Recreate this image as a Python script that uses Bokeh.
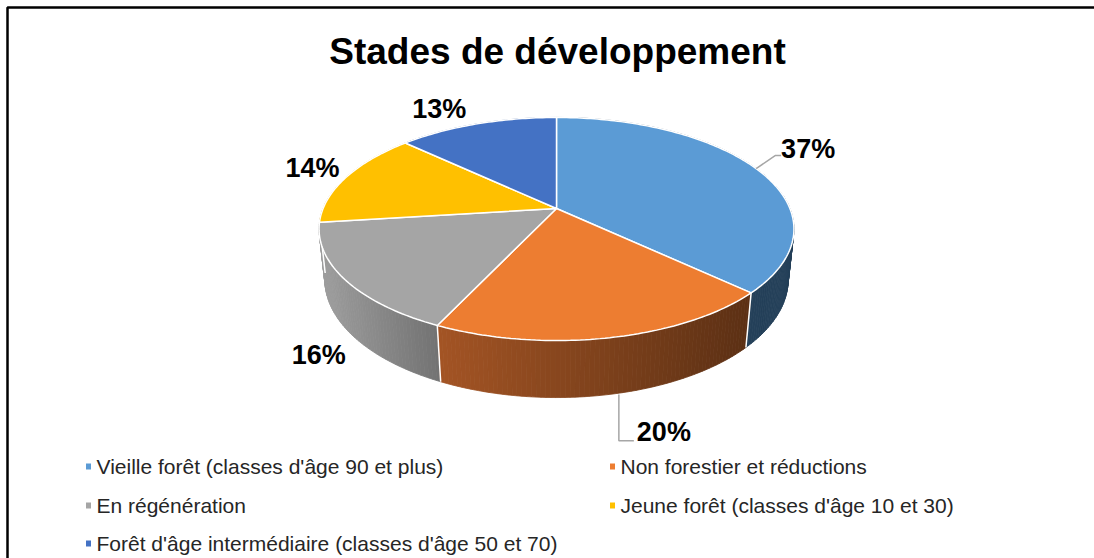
import numpy as np
from bokeh.plotting import figure
from bokeh.models import Range1d
from bokeh.embed import file_html
from bokeh.resources import INLINE
from bokeh.core.properties import value

# ---------------- data ----------------
title_text = "Stades de développement"
categories = [
    "Vieille forêt (classes d'âge 90 et plus)",
    "Non forestier et réductions",
    "En régénération",
    "Jeune forêt (classes d'âge 10 et 30)",
    "Forêt d'âge intermédiaire (classes d'âge 50 et 70)",
]
values = [37, 20, 16, 14, 13]
pct_labels = ["37%", "20%", "16%", "14%", "13%"]

# ---------------- style ----------------
top_colors = ["#5B9BD5", "#ED7D31", "#A5A5A5", "#FFC000", "#4472C4"]
side_left = [(36, 64, 89), (163, 84, 36), (158, 158, 158), (190, 140, 0), (50, 85, 150)]
side_right = [(36, 64, 89), (92, 48, 20), (115, 115, 115), (190, 140, 0), (50, 85, 150)]
label_offsets = [(52, -20), (54, 94), (-26, 75), (-34, -9), (-38, -15)]
FONT = "Liberation Sans"

W, HGT = 1094, 558
CX, CY = 556.0, 208.0
ELEV = np.arcsin(0.465)
DIST = 4.82
FOC = 1125.0
THICK = 0.249


def proj(phi_deg, z=0.0, r=1.0):
    ph = np.radians(phi_deg)
    X = r * np.sin(ph)
    Y = r * np.cos(ph)
    yv = Y * np.sin(ELEV) + z * np.cos(ELEV)
    dep = DIST + Y * np.cos(ELEV) - z * np.sin(ELEV)
    return CX + FOC * X / dep, CY - FOC * yv / dep * 0.993


total = float(sum(values))
cum = np.concatenate([[0.0], np.cumsum(values)]) / total * 360.0
starts, ends = cum[:-1], cum[1:]

p = figure(width=W, height=HGT, x_range=Range1d(0, W), y_range=Range1d(HGT, 0),
           output_backend="svg", toolbar_location=None, min_border=0,
           x_axis_location=None, y_axis_location=None)
p.grid.visible = False
p.outline_line_color = None
p.background_fill_color = "white"

# ---------------- side walls ----------------
quads = []
for i, (a0, a1) in enumerate(zip(starts, ends)):
    n = max(2, int(np.ceil(a1 - a0)) + 1)
    angs = np.linspace(a0, a1, n)
    mids = (angs[:-1] + angs[1:]) / 2
    front = np.cos(np.radians(mids)) < 0.05
    mx = np.array([proj(m)[0] for m in mids])
    if front.any():
        xmin, xmax = mx[front].min(), mx[front].max()
    else:
        xmin, xmax = mx.min(), mx.max()
    for k in range(n - 1):
        a, b = angs[k], angs[k + 1]
        ta, tb = proj(a), proj(b)
        ba, bb = proj(a, -THICK), proj(b, -THICK)
        t = 0.0 if xmax == xmin else float(np.clip((mx[k] - xmin) / (xmax - xmin), 0, 1))
        c = tuple(int(round(side_left[i][j] + t * (side_right[i][j] - side_left[i][j]))) for j in range(3))
        col = "#%02x%02x%02x" % c
        depth = np.cos(np.radians(mids[k]))
        quads.append((depth, [ta[0], tb[0], bb[0], ba[0]], [ta[1], tb[1], bb[1], ba[1]], col))
quads.sort(key=lambda q: -q[0])
p.patches(xs=[q[1] for q in quads], ys=[q[2] for q in quads],
          fill_color=[q[3] for q in quads], line_color=[q[3] for q in quads], line_width=0.8)

# separators on side walls
sx0, sy0, sx1, sy1 = [], [], [], []
for a in list(starts[1:]):
    if np.cos(np.radians(a)) < 0:
        t_ = proj(a)
        b_ = proj(a, -THICK)
        sx0.append(t_[0]); sy0.append(t_[1]); sx1.append(b_[0]); sy1.append(b_[1])
p.segment(x0=sx0, y0=sy0, x1=sx1, y1=sy1, line_color="white", line_width=1.5)

# ---------------- top faces ----------------
txs, tys = [], []
for a0, a1 in zip(starts, ends):
    n = max(2, int(np.ceil(a1 - a0)) + 1)
    angs = np.linspace(a0, a1, n)
    pts = [proj(a) for a in angs]
    txs.append([CX] + [q[0] for q in pts])
    tys.append([CY] + [q[1] for q in pts])
p.patches(xs=txs, ys=tys, fill_color=top_colors, line_color="white", line_width=1.5)

# ---------------- data labels ----------------
lx, ly = [], []
anchors = []
for i, (a0, a1) in enumerate(zip(starts, ends)):
    m = (a0 + a1) / 2
    ax, ay = proj(m)
    anchors.append((ax, ay, proj(m, -THICK)))
    lx.append(ax + label_offsets[i][0])
    ly.append(ay + label_offsets[i][1])

# leader lines (first two slices)
ax0, ay0, _ = anchors[0]
p.line(x=[ax0, lx[0] - 33, lx[0] - 27], y=[ay0, ly[0] + 7, ly[0] + 7], line_color="#A6A6A6", line_width=1.5)
_, _, bot1 = anchors[1]
p.line(x=[lx[1] - 45, lx[1] - 45, lx[1] - 30], y=[bot1[1], ly[1] + 9, ly[1] + 9], line_color="#A6A6A6", line_width=1.5)

p.text(x=lx, y=ly, text=pct_labels, text_font=value(FONT), text_font_style="bold",
       text_font_size="27px", text_align="center", text_baseline="middle", text_color="black")

# ---------------- title ----------------
p.text(x=[CX + 1], y=[51], text=[title_text], text_font=value(FONT), text_font_style="bold",
       text_font_size="37px", text_align="center", text_baseline="middle", text_color="black")

# ---------------- legend ----------------
col_x = [88, 612]
row_y = [466, 505, 543]
mx_, my_, tx_, ty_ = [], [], [], []
for i, cat in enumerate(categories):
    r, c = divmod(i, 2)
    mx_.append(col_x[c]); my_.append(row_y[r])
    tx_.append(col_x[c] + 8); ty_.append(row_y[r])
p.rect(x=mx_, y=my_, width=5, height=6, fill_color=top_colors, line_color=None)
p.text(x=tx_, y=ty_, text=categories, text_font=value(FONT), text_font_size="21px",
       text_align="left", text_baseline="middle", text_color="#262626")

# ---------------- outer border ----------------
p.quad(left=[7], right=[W + 20], top=[7], bottom=[HGT + 20], fill_alpha=0,
       line_color="black", line_width=2.5)

open("out.html", "w").write(file_html(p, INLINE))
